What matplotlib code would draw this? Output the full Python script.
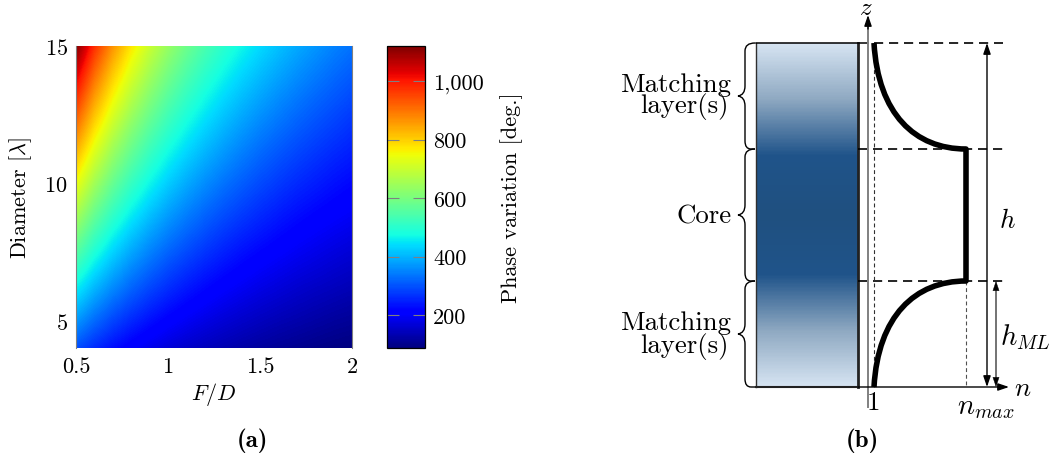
import numpy as np
import matplotlib
matplotlib.use("Agg")
import matplotlib.pyplot as plt
from matplotlib.colors import LinearSegmentedColormap
from matplotlib.patches import PathPatch
from matplotlib.path import Path

plt.rcParams["mathtext.fontset"] = "cm"
plt.rcParams["font.family"] = ["cmr10", "DejaVu Sans"]
plt.rcParams["axes.unicode_minus"] = False
plt.rcParams["axes.formatter.use_mathtext"] = True

# Estimated heatmap values (deg.) on a coarse table
fd_values = [0.5, 0.6, 0.7, 0.8, 0.9, 1.0, 1.1, 1.2, 1.3, 1.4, 1.5, 1.6, 1.7, 1.8, 1.9, 2.0]
diameter_values = [4, 5, 6, 7, 8, 9, 10, 11, 12, 13, 14, 15]
phase_d04 = [298, 261, 231, 206, 187, 170, 156, 144, 134, 125, 117, 110, 104, 98, 93, 89]
phase_d05 = [373, 326, 288, 258, 233, 212, 195, 180, 167, 156, 146, 137, 130, 123, 116, 111]
phase_d06 = [447, 391, 346, 310, 280, 255, 234, 216, 200, 187, 175, 165, 155, 147, 140, 133]
phase_d07 = [522, 456, 404, 361, 327, 297, 273, 252, 234, 218, 204, 192, 181, 172, 163, 155]
phase_d08 = [596, 521, 461, 413, 373, 340, 312, 288, 267, 249, 234, 220, 207, 196, 186, 177]
phase_d09 = [671, 586, 519, 465, 420, 382, 351, 324, 301, 281, 263, 247, 233, 221, 210, 200]
phase_d10 = [746, 652, 577, 516, 467, 425, 390, 360, 334, 312, 292, 275, 259, 246, 233, 222]
phase_d11 = [820, 717, 634, 568, 513, 467, 429, 396, 368, 343, 321, 302, 285, 270, 256, 244]
phase_d12 = [895, 782, 692, 619, 560, 510, 468, 432, 401, 374, 350, 330, 311, 295, 280, 266]
phase_d13 = [969, 847, 750, 671, 607, 552, 507, 468, 434, 405, 380, 357, 337, 319, 303, 288]
phase_d14 = [1044, 912, 807, 723, 653, 595, 546, 504, 468, 436, 409, 385, 363, 344, 326, 310]
phase_d15 = [1118, 977, 865, 774, 700, 637, 585, 540, 501, 468, 438, 412, 389, 369, 349, 333]
phase_rows = [phase_d04, phase_d05, phase_d06, phase_d07, phase_d08, phase_d09,
              phase_d10, phase_d11, phase_d12, phase_d13, phase_d14, phase_d15]

x_ticks = [0.5, 1, 1.5, 2]
x_tick_labels = ["0.5", "1", "1.5", "2"]
y_ticks = [5, 10, 15]
cbar_ticks = [200, 400, 600, 800, 1000]
cbar_tick_labels = ["200", "400", "600", "800", "1,000"]
phase_min, phase_max = 88, 1120

W, H = 1052, 464
fig = plt.figure(figsize=(W / 100, H / 100), dpi=100)


def rect(l, t, r, b):
    return [l / W, 1 - b / H, (r - l) / W, (b - t) / H]


GRAY = "#808080"
LS = 16
ax = fig.add_axes(rect(76, 47, 352, 349))
dx = fd_values[1] - fd_values[0]
dy = diameter_values[1] - diameter_values[0]
im = ax.imshow(np.array(phase_rows, dtype=float), origin="lower", aspect="auto", cmap="jet",
               vmin=phase_min, vmax=phase_max, interpolation="bilinear",
               interpolation_stage="data",
               extent=[fd_values[0] - dx / 2, fd_values[-1] + dx / 2,
                       diameter_values[0] - dy / 2, diameter_values[-1] + dy / 2])
ax.set_xlim(0.5, 2)
ax.set_ylim(4, 15)
ax.set_xticks(x_ticks, x_tick_labels)
ax.set_yticks(y_ticks)
ax.tick_params(length=0, labelsize=LS, pad=6)
for name, s in ax.spines.items():
    s.set_color(GRAY)
    s.set_linewidth(0.8)
    s.set_visible(name in ("left", "right"))
ax.set_xlabel(r"$F/D$", fontsize=LS, va="center")
ax.xaxis.set_label_coords(0.5, -0.152)
ax.set_ylabel(r"Diameter [$\lambda$]", fontsize=LS, va="center")
ax.yaxis.set_label_coords(-0.2, 0.5)

cax = fig.add_axes(rect(387, 47, 425, 349))
cb = fig.colorbar(im, cax=cax)
cb.set_ticks(cbar_ticks, labels=cbar_tick_labels)
cax.tick_params(axis="y", direction="in", left=True, right=True, length=8.5, width=0.8,
                color=GRAY, labelsize=LS, pad=6)
cb.outline.set_edgecolor("black")
cb.outline.set_linewidth(0.9)
cb.set_label("Phase variation [deg.]", fontsize=LS, va="center")
cax.yaxis.set_label_coords(3.28, 0.5)

# Schematic panel, in figure pixels
ov = fig.add_axes([0, 0, 1, 1], facecolor="none")
ov.set_xlim(0, W)
ov.set_ylim(H, 0)
ov.axis("off")

slab_left, slab_right = 756, 858
z_top, z_core_top, z_core_bottom, z_bottom = 44, 150, 282, 388
n_one, n_max = 874, 966
z_axis_x = 868
gradient_colors = ["#d6e4f2", "#8fa9c2", "#20548a", "#1f5080", "#20548a", "#8fa9c2", "#d6e4f2"]
gradient_stops = [0.0, 0.16, 0.325, 0.5, 0.675, 0.84, 1.0]

cmap_slab = LinearSegmentedColormap.from_list("slab", list(zip(gradient_stops, gradient_colors)))
ov.imshow(np.linspace(0, 1, 345).reshape(-1, 1), cmap=cmap_slab, aspect="auto",
          extent=[slab_left, slab_right, z_bottom, z_top], zorder=1, origin="upper")
ov.set_xlim(0, W)
ov.set_ylim(H, 0)

ov.plot([slab_left, slab_left], [z_top, z_bottom], color="#303030", lw=1.0, zorder=2)
ov.plot([slab_right, slab_right], [z_top, z_bottom], color="#222222", lw=2.0, zorder=2)
ov.plot([slab_left, z_axis_x], [z_top, z_top], color="black", lw=1.1, zorder=2)
ov.plot([slab_left, slab_right], [z_bottom, z_bottom], color="#222222", lw=1.5, zorder=2)

dash = (0, (5.5, 3.5))
ov.plot([n_one, 1003], [z_top, z_top], color="black", lw=1.2, ls=dash, zorder=2)
ov.plot([slab_right, 1004], [z_core_top, z_core_top], color="black", lw=1.2, ls=dash, zorder=2)
ov.plot([slab_right, 1003], [z_core_bottom, z_core_bottom], color="black", lw=1.2, ls=dash, zorder=2)
ov.plot([n_one, n_one], [z_top, z_bottom], color="#303030", lw=0.8, ls=(0, (3.5, 2.5)), zorder=2)
ov.plot([n_max, n_max], [z_core_bottom, z_bottom], color="#505050", lw=0.8, ls=(0, (3.5, 2.5)), zorder=2)

ov.plot([z_axis_x, z_axis_x], [408, 24], color=GRAY, lw=1.4, zorder=3)
arrow = dict(arrowstyle="-|>,head_length=0.5,head_width=0.17", color="black", lw=1.0,
             shrinkA=0, shrinkB=0, mutation_scale=13)
ov.annotate("", xy=(z_axis_x, 16), xytext=(z_axis_x, 30), arrowprops=arrow, zorder=4)
ov.annotate("", xy=(1009, z_bottom), xytext=(slab_right, z_bottom), arrowprops=arrow, zorder=4)
both = dict(arrow, arrowstyle="<|-|>,head_length=0.5,head_width=0.17")
ov.annotate("", xy=(987, z_top), xytext=(987, z_bottom), arrowprops=both, zorder=4)
ov.plot([996, 996], [z_core_bottom + 6, z_bottom - 6], color=GRAY, lw=1.2, zorder=3)
both_clear = dict(both, lw=0.3)
ov.annotate("", xy=(996, z_core_bottom), xytext=(996, z_bottom), arrowprops=both_clear, zorder=4)

# Refractive index profile (thick line)
profile_top = [(n_one, z_top), (878, 115), (915, z_core_top), (n_max, z_core_top)]
profile_bottom = [(n_max, z_core_bottom), (915, z_core_bottom), (878, 317), (n_one, z_bottom)]
verts = profile_top + profile_bottom
codes = [Path.MOVETO, Path.CURVE4, Path.CURVE4, Path.CURVE4,
         Path.LINETO, Path.CURVE4, Path.CURVE4, Path.CURVE4]
ov.add_patch(PathPatch(Path(verts, codes), fc="none", ec="black", lw=4.0,
                       capstyle="butt", joinstyle="round", zorder=5))


def left_brace(y0, y1, tip=738, spine=745, end=755):
    m = (y0 + y1) / 2
    v = [(end, y0), (spine, y0), (spine, y0 + 8), (spine, y0 + 12),
         (spine, m - 10), (spine, m - 1), (tip, m),
         (spine, m + 1), (spine, m + 10), (spine, y1 - 8),
         (spine, y1), (end - 4, y1), (end, y1)]
    c = [Path.MOVETO, Path.CURVE3, Path.CURVE3, Path.LINETO,
         Path.LINETO, Path.CURVE3, Path.CURVE3,
         Path.CURVE3, Path.CURVE3, Path.LINETO,
         Path.CURVE3, Path.CURVE3, Path.LINETO]
    ov.add_patch(PathPatch(Path(v, c), fc="none", ec="black", lw=1.0, zorder=2))


left_brace(z_top, z_core_top)
left_brace(z_core_top, z_core_bottom)
left_brace(z_core_bottom, z_bottom)

TS = 19.3
ov.text(731, 85, "Matching", ha="right", va="center", fontsize=TS)
ov.text(729, 107, "layer(s)", ha="right", va="center", fontsize=TS)
ov.text(732, 217, "Core", ha="right", va="center", fontsize=TS)
ov.text(731, 323, "Matching", ha="right", va="center", fontsize=TS)
ov.text(729, 347, "layer(s)", ha="right", va="center", fontsize=TS)
ov.text(866, 9, r"$z$", ha="center", va="center", fontsize=18)
ov.text(1023, 389, r"$n$", ha="center", va="center", fontsize=TS)
ov.text(873, 403, "1", ha="center", va="center", fontsize=TS)
ov.text(986, 408, r"$n_{max}$", ha="center", va="center", fontsize=20.5)
ov.text(1007, 221, r"$h$", ha="center", va="center", fontsize=TS)
ov.text(1025, 337, r"$h_{ML}$", ha="center", va="center", fontsize=20.5)
ov.text(252, 441, "(a)", ha="center", va="center", fontsize=18, family=["cmb10", "DejaVu Sans"])
ov.text(862, 441, "(b)", ha="center", va="center", fontsize=18, family=["cmb10", "DejaVu Sans"])

fig.savefig("out.png", dpi=100)
